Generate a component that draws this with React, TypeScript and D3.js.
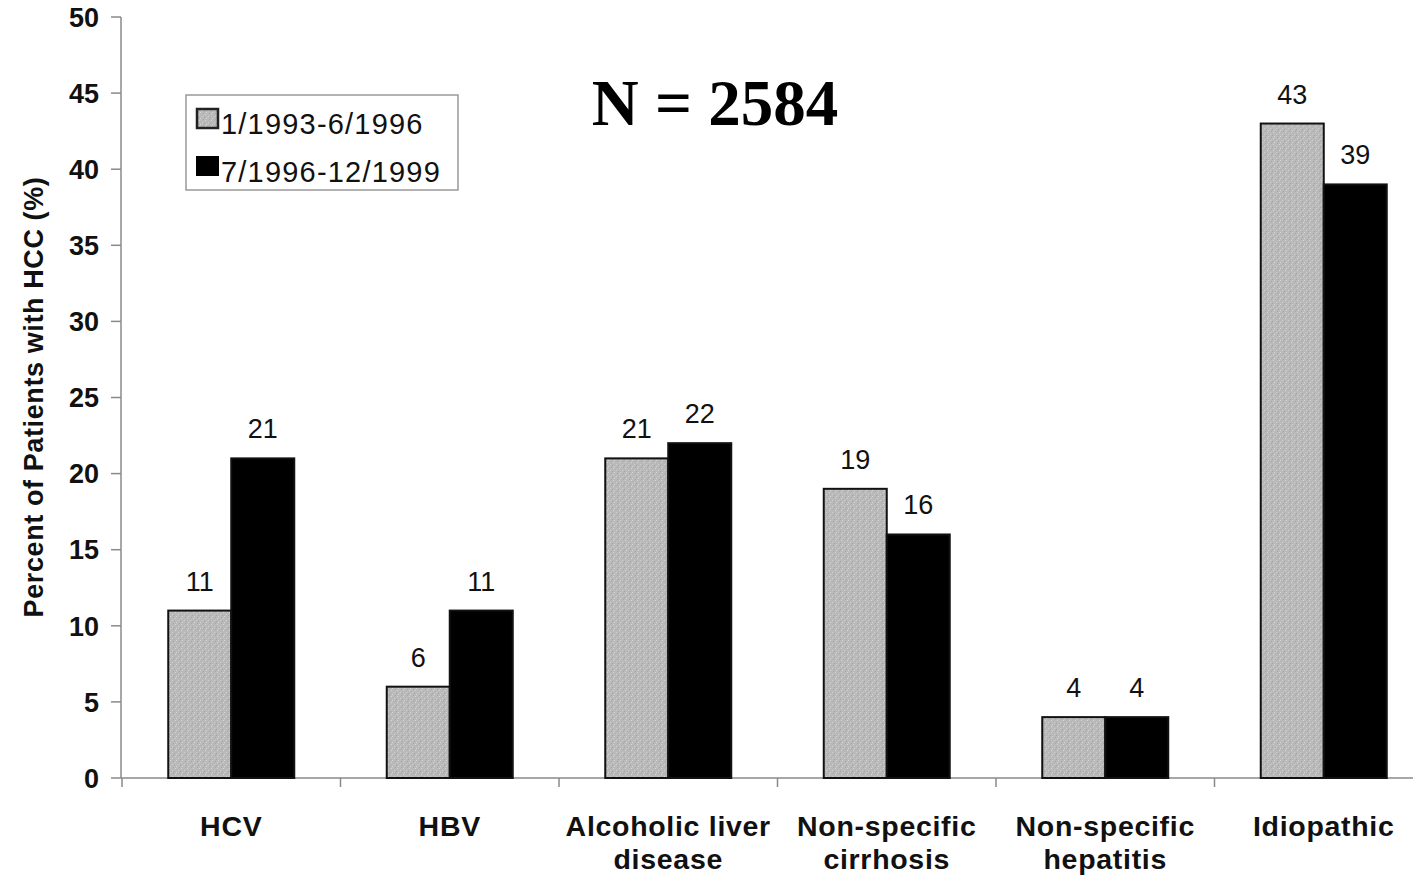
import React from "react";
import * as d3 from "d3";

const categories = [
  ["HCV"],
  ["HBV"],
  ["Alcoholic liver", "disease"],
  ["Non-specific", "cirrhosis"],
  ["Non-specific", "hepatitis"],
  ["Idiopathic"],
];
const period1 = [11, 6, 21, 19, 4, 43];
const period2 = [21, 11, 22, 16, 4, 39];
const seriesNames = ["1/1993-6/1996", "7/1996-12/1999"];
const yTicks = [0, 5, 10, 15, 20, 25, 30, 35, 40, 45, 50];

const W = 1413;
const H = 877;
const font = "'Liberation Sans', Arial, Helvetica, sans-serif";

export default function App() {
  const x = d3
    .scaleBand<number>()
    .domain(d3.range(categories.length))
    .range([122, 1433])
    .paddingInner(0)
    .paddingOuter(0);
  const y = d3.scaleLinear().domain([0, 50]).range([778, 17]);
  const barW = 63;
  const grayFill = "url(#speckle)";
  const boundaries = d3.range(categories.length + 1).map((i) => 122 + i * x.bandwidth());

  return (
    <svg
      width={W}
      height={H}
      style={{ position: "absolute", left: 0, top: 0, background: "#fff" }}
    >
      <defs>
        <pattern id="speckle" width="6" height="6" patternUnits="userSpaceOnUse">
          <rect width="6" height="6" fill="#b9b9b9" />
          <rect x="1" y="0" width="1" height="1" fill="#d6d6d6" />
          <rect x="4" y="2" width="1" height="1" fill="#d0d0d0" />
          <rect x="2" y="4" width="1" height="1" fill="#d8d8d8" />
          <rect x="5" y="5" width="1" height="1" fill="#a8a8a8" />
          <rect x="0" y="3" width="1" height="1" fill="#a6a6a6" />
        </pattern>
      </defs>

      {/* y axis */}
      <line x1={121} x2={121} y1={y(50)} y2={y(0)} stroke="#8a8a8a" strokeWidth={1.5} />
      {yTicks.map((t) => (
        <g key={t}>
          <line x1={111} x2={121} y1={y(t)} y2={y(t)} stroke="#8a8a8a" strokeWidth={1.5} />
          <text
            x={99}
            y={y(t)}
            dy="0.36em"
            textAnchor="end"
            fontFamily={font}
            fontWeight="bold"
            fontSize={27}
            fill="#111"
          >
            {t}
          </text>
        </g>
      ))}
      <text
        transform={`translate(43, 397) rotate(-90)`}
        textAnchor="middle"
        fontFamily={font}
        fontWeight="bold"
        fontSize={27}
        letterSpacing={0.6}
        fill="#111"
      >
        Percent of Patients with HCC (%)
      </text>

      {/* x axis */}
      <line x1={121} x2={W} y1={y(0)} y2={y(0)} stroke="#8a8a8a" strokeWidth={1.5} />
      {boundaries.map((b, i) => (
        <line key={i} x1={b} x2={b} y1={y(0)} y2={y(0) + 9} stroke="#8a8a8a" strokeWidth={1.5} />
      ))}

      {/* bars */}
      {categories.map((c, i) => {
        const cx = (x(i) as number) + x.bandwidth() / 2;
        const v1 = period1[i];
        const v2 = period2[i];
        return (
          <g key={i}>
            <rect
              x={cx - barW}
              y={y(v1)}
              width={barW}
              height={y(0) - y(v1)}
              fill={grayFill}
              stroke="#111"
              strokeWidth={2}
            />
            <rect
              x={cx}
              y={y(v2)}
              width={barW}
              height={y(0) - y(v2)}
              fill="#000"
              stroke="#111"
              strokeWidth={2}
            />
            <text
              x={cx - barW / 2}
              y={y(v1) - 20}
              textAnchor="middle"
              fontFamily={font}
              fontSize={27}
              fill="#111"
            >
              {v1}
            </text>
            <text
              x={cx + barW / 2}
              y={y(v2) - 20}
              textAnchor="middle"
              fontFamily={font}
              fontSize={27}
              fill="#111"
            >
              {v2}
            </text>
            {c.map((line, j) => (
              <text
                key={j}
                x={cx}
                y={836 + j * 33}
                textAnchor="middle"
                fontFamily={font}
                fontWeight="bold"
                fontSize={28.5}
                letterSpacing={0.7}
                fill="#111"
              >
                {line}
              </text>
            ))}
          </g>
        );
      })}

      {/* legend */}
      <rect x={186} y={95} width={272} height={95} fill="#fff" stroke="#999" strokeWidth={1.5} />
      <rect x={197} y={109} width={21} height={19} fill={grayFill} stroke="#222" strokeWidth={2.5} />
      <rect x={197} y={157} width={21} height={18} fill="#000" stroke="#000" strokeWidth={2} />
      <text x={221} y={134} fontFamily={font} fontSize={29} letterSpacing={1.2} fill="#111">
        {seriesNames[0]}
      </text>
      <text x={221} y={182} fontFamily={font} fontSize={29} letterSpacing={1.2} fill="#111">
        {seriesNames[1]}
      </text>

      <text
        x={715}
        y={125}
        textAnchor="middle"
        fontFamily="'Liberation Serif', 'Times New Roman', serif"
        fontWeight="bold"
        fontSize={65}
        fill="#000"
      >
        N = 2584
      </text>
    </svg>
  );
}
